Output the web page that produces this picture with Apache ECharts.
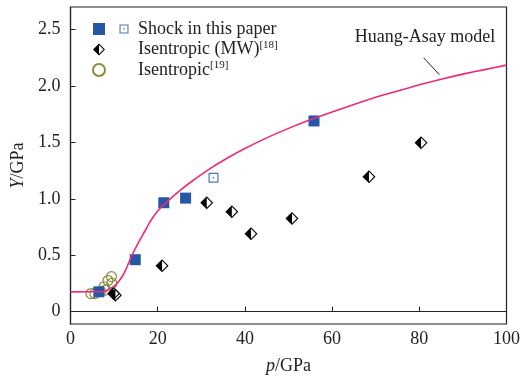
<!DOCTYPE html>
<html>
<head>
<meta charset="utf-8">
<script src="https://cdn.jsdelivr.net/npm/echarts@6/dist/echarts.min.js"></script>
<style>html,body{margin:0;padding:0;background:#fff}#c{width:523px;height:381px}</style>
</head>
<body>
<div id="c"></div>
<script>
// ---- data ----
const xTicks = [0, 20, 40, 60, 80, 100];
const yTicks = [0, 0.5, 1.0, 1.5, 2.0, 2.5];
const shockFilled = [[6.5,0.175],[14.85,0.46],[21.4,0.965],[26.4,1.006],[55.85,1.69]];
const shockHollow = [[32.8,1.186]];
const isentropicMW = [[9.9,0.16],[10.3,0.145],[21.0,0.406],[31.25,0.965],[37.0,0.885],[41.4,0.69],[50.8,0.826],[68.45,1.195],[80.4,1.497]];
const isentropic19 = [[4.7,0.16],[5.6,0.16],[6.9,0.18],[8.0,0.19],[7.7,0.22],[8.6,0.275],[9.4,0.31],[9.5,0.25]];
const huangAsay = [[0,0.175],[7,0.176],[8.5,0.19],[10,0.225],[11,0.265],[12,0.32],[13,0.40],[14,0.49],[15,0.57],[16,0.64],[17,0.71],[18,0.78],[19,0.84],[20,0.892],[22,0.968],[25,1.07],[28,1.16],[32,1.268],[36,1.362],[40,1.446],[45,1.54],[50,1.624],[55,1.70],[60,1.77],[65,1.836],[70,1.90],[75,1.955],[80,2.01],[85,2.06],[90,2.105],[95,2.145],[100,2.185]];
const modelLabel = 'Huang-Asay model';
const modelLabelAt = [81.3, 2.436];
const leader = [[81.0, 2.25], [84.6, 2.10]];

const FONT = 'Liberation Serif';
const TXT = '#222';
const halfDiamond = 'path://M50 0 L0 50 L50 100 Z M50 0 L100 50 L50 100 L50 88 L88 50 L50 12 Z';
const dotSquare = 'path://M0 0 H100 V100 H0 Z M12 12 V88 H88 V12 Z M43 43 H57 V57 H43 Z';

const chart = echarts.init(document.getElementById('c'), null, {renderer: 'canvas'});
const rich = {
  t: {fontFamily: FONT, fontSize: 18, color: TXT, lineHeight: 20},
  s: {fontFamily: FONT, fontSize: 11, color: TXT, lineHeight: 11, verticalAlign: 'top'}
};
chart.setOption({
  animation: false,
  backgroundColor: '#fff',
  grid: {left: 70.5, right: 14, top: 7, bottom: 57, show: true, borderColor: '#222', borderWidth: 1.2, backgroundColor: 'transparent'},
  xAxis: {
    type: 'value', min: xTicks[0], max: xTicks[xTicks.length-1], interval: 20,
    splitLine: {show: false},
    axisLine: {lineStyle: {color: '#222', width: 1.2}},
    axisTick: {inside: true, length: 5, lineStyle: {color: '#222'}},
    axisLabel: {fontFamily: FONT, fontSize: 18, color: TXT, margin: 6},
    name: '{i|p}{n|/GPa}', nameLocation: 'middle', nameGap: 33,
    nameTextStyle: {rich: {i: {fontFamily: FONT, fontSize: 18, fontStyle: 'italic', color: TXT}, n: {fontFamily: FONT, fontSize: 18, color: TXT}}}
  },
  yAxis: {
    type: 'value', min: -0.11, max: 2.7,
    splitLine: {show: false},
    axisLine: {lineStyle: {color: '#222', width: 1.2}},
    axisTick: {inside: true, length: 5, customValues: yTicks, lineStyle: {color: '#222'}},
    axisLabel: {fontFamily: FONT, fontSize: 18, color: TXT, margin: 10, customValues: yTicks,
      formatter: v => (v === 0 ? '0' : v.toFixed(1))},
    name: '{i|Y}{n|/GPa}', nameLocation: 'middle', nameGap: 39, nameRotate: 90,
    nameTextStyle: {rich: {i: {fontFamily: FONT, fontSize: 18, fontStyle: 'italic', color: TXT}, n: {fontFamily: FONT, fontSize: 18, color: TXT}}}
  },
  legend: [
    {
      orient: 'vertical', left: 87, top: 14, itemWidth: 12, itemHeight: 12, itemGap: 0.5,
      data: ['shockFilled', 'Isentropic (MW)[18]', 'Isentropic[19]'],
      formatter: () => ' ', textStyle: {fontSize: 18, lineHeight: 20, fontFamily: FONT},
      selectedMode: false
    },
    {
      orient: 'vertical', left: 110, top: 14, itemWidth: 18, itemHeight: 9, itemGap: 0.5,
      data: [{name: 'Shock in this paper'}, {name: 'Isentropic (MW)[18]', icon: 'none'}, {name: 'Isentropic[19]', icon: 'none'}],
      formatter: n => {
        if (n === 'Isentropic (MW)[18]') return '{t|Isentropic (MW)}{s|[18]}';
        if (n === 'Isentropic[19]') return '{t|Isentropic}{s|[19]}';
        return '{t|' + n + '}';
      },
      textStyle: {fontSize: 18, lineHeight: 20, fontFamily: FONT, color: TXT, rich: rich},
      selectedMode: false
    }
  ],
  series: [
    {
      name: 'Isentropic[19]', type: 'scatter', data: isentropic19, symbol: 'circle', symbolSize: 10,
      itemStyle: {color: 'rgba(255,255,255,0)', borderColor: '#8c8a3e', borderWidth: 1.2, opacity: 1}, z: 2
    },
    {
      name: 'Isentropic (MW)[18]', type: 'scatter', data: isentropicMW, symbol: halfDiamond, symbolSize: 13,
      itemStyle: {color: '#000', opacity: 1}, z: 3
    },
    {
      name: 'shockFilled', type: 'scatter', data: shockFilled, symbol: 'rect', symbolSize: 11,
      itemStyle: {color: '#2457a4', opacity: 1}, z: 3
    },
    {
      name: 'Shock in this paper', type: 'scatter', data: shockHollow, symbol: dotSquare, symbolSize: 10,
      itemStyle: {color: '#4a78c0', opacity: 1}, z: 3
    },
    {
      name: 'Huang-Asay', type: 'line', data: huangAsay, showSymbol: false, symbol: 'none',
      smooth: 0.25,
      lineStyle: {color: '#ec2a7c', width: 1.6}, z: 4,
      markLine: {
        silent: true, symbol: 'none', label: {show: false},
        lineStyle: {color: '#222', width: 1, type: 'solid'},
        data: [[{coord: leader[0]}, {coord: leader[1]}]]
      },
      markPoint: {
        silent: true, symbol: 'circle', symbolSize: 0,
        label: {show: true, position: 'inside', formatter: modelLabel, fontFamily: FONT, fontSize: 18, color: TXT},
        data: [{coord: modelLabelAt}]
      }
    }
  ]
});
</script>
</body>
</html>
